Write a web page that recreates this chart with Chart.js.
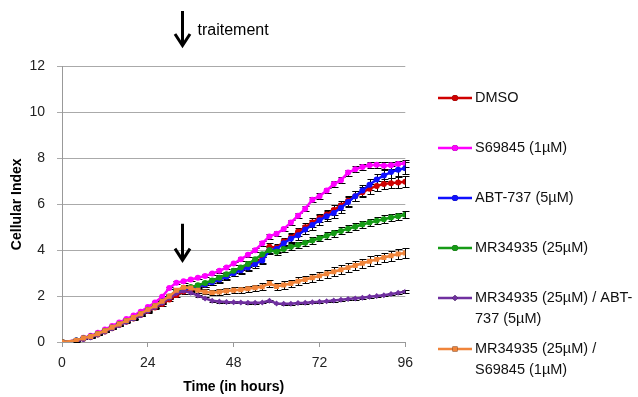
<!DOCTYPE html>
<html><head><meta charset="utf-8">
<script src="https://cdn.jsdelivr.net/npm/chart.js@4/dist/chart.umd.min.js"></script>
<style>html,body{margin:0;padding:0;background:#fff;}#wrap{width:638px;height:397px;position:relative;}</style>
</head><body><div id="wrap"><canvas id="c" width="638" height="397"></canvas></div>
<script>
// ---- data ----
const times = [0,4,6,8,10,12,14,16,18,20,22,24,26,28,30,32,34,36,38,40,42,44,46,48,50,52,54,56,58,60,62,64,66,68,70,72,74,76,78,80,82,84,86,88,90,92,94,96];
const dmso   = [0,0.05,0.14,0.22,0.33,0.46,0.6,0.74,0.88,1.02,1.18,1.35,1.5,1.66,1.85,2.05,2.2,2.3,2.4,2.5,2.62,2.75,2.88,3.02,3.15,3.3,3.45,3.62,4.15,4.1,4.38,4.55,4.8,5.0,5.2,5.4,5.55,5.75,5.95,6.15,6.35,6.52,6.68,6.8,6.88,6.92,6.95,6.98];
const s69845 = [0,0.07,0.18,0.27,0.4,0.54,0.7,0.85,1.0,1.15,1.32,1.52,1.72,1.97,2.35,2.58,2.65,2.72,2.8,2.88,2.98,3.1,3.24,3.42,3.6,3.8,4.0,4.3,4.6,4.72,4.92,5.2,5.5,5.8,6.2,6.35,6.6,6.88,7.05,7.38,7.52,7.62,7.7,7.72,7.68,7.7,7.75,7.78];
const abt737 = [0,0.06,0.15,0.23,0.35,0.48,0.62,0.76,0.9,1.05,1.2,1.38,1.55,1.73,1.95,2.18,2.3,2.36,2.42,2.5,2.6,2.72,2.85,3.0,3.12,3.25,3.4,3.55,4.0,4.05,4.3,4.5,4.65,4.9,5.1,5.3,5.48,5.62,5.85,6.1,6.35,6.6,6.85,7.08,7.25,7.4,7.5,7.57];
const mr34935 = [0,0.06,0.16,0.24,0.36,0.49,0.63,0.77,0.92,1.06,1.22,1.4,1.57,1.76,1.98,2.22,2.36,2.4,2.47,2.57,2.68,2.8,2.95,3.1,3.25,3.4,3.6,3.82,4.0,3.93,4.05,4.15,4.22,4.32,4.42,4.52,4.63,4.74,4.84,4.93,5.02,5.12,5.2,5.28,5.35,5.42,5.48,5.54];
const mrAbt  = [0,0.03,0.12,0.2,0.32,0.45,0.6,0.73,0.88,1.02,1.17,1.35,1.52,1.7,1.92,2.12,2.22,2.15,2.02,1.9,1.8,1.76,1.74,1.73,1.72,1.71,1.71,1.72,1.8,1.68,1.67,1.67,1.7,1.71,1.73,1.75,1.78,1.81,1.84,1.87,1.9,1.93,1.97,2.0,2.04,2.09,2.14,2.2];
const mrS    = [0,0.07,0.17,0.24,0.36,0.49,0.64,0.78,0.93,1.07,1.23,1.41,1.58,1.77,1.99,2.25,2.38,2.35,2.25,2.18,2.15,2.18,2.22,2.25,2.28,2.32,2.36,2.4,2.55,2.42,2.48,2.55,2.65,2.72,2.8,2.88,2.97,3.06,3.15,3.24,3.33,3.43,3.52,3.6,3.68,3.76,3.83,3.88];

const dmsoErr   = [0,0.02,0.02,0.03,0.03,0.04,0.04,0.05,0.05,0.06,0.06,0.07,0.07,0.08,0.08,0.09,0.1,0.1,0.11,0.12,0.12,0.13,0.13,0.14,0.14,0.15,0.15,0.16,0.16,0.17,0.17,0.18,0.18,0.18,0.19,0.19,0.2,0.2,0.2,0.21,0.21,0.21,0.22,0.22,0.22,0.23,0.23,0.23];
const s69845Err = [0,0.01,0.01,0.02,0.02,0.02,0.03,0.03,0.03,0.04,0.04,0.04,0.05,0.05,0.05,0.06,0.06,0.06,0.07,0.07,0.07,0.08,0.08,0.08,0.09,0.09,0.09,0.1,0.1,0.1,0.1,0.11,0.11,0.11,0.12,0.12,0.12,0.12,0.13,0.13,0.13,0.13,0.14,0.14,0.14,0.15,0.15,0.15];
const abt737Err = [0,0.02,0.02,0.03,0.03,0.04,0.04,0.05,0.05,0.06,0.06,0.07,0.07,0.08,0.09,0.09,0.1,0.1,0.11,0.11,0.12,0.13,0.13,0.14,0.14,0.15,0.16,0.16,0.17,0.17,0.18,0.19,0.19,0.2,0.2,0.21,0.21,0.22,0.22,0.23,0.23,0.24,0.24,0.25,0.25,0.26,0.26,0.27];
const mr34935Err = [0,0.01,0.02,0.02,0.03,0.03,0.04,0.04,0.05,0.05,0.06,0.06,0.07,0.07,0.08,0.08,0.08,0.09,0.09,0.1,0.1,0.1,0.11,0.11,0.11,0.12,0.12,0.12,0.13,0.13,0.13,0.13,0.14,0.14,0.14,0.14,0.14,0.15,0.15,0.15,0.15,0.15,0.15,0.16,0.16,0.16,0.16,0.16];
const mrAbtErr  = [0,0.01,0.01,0.01,0.01,0.02,0.02,0.02,0.02,0.02,0.03,0.03,0.03,0.03,0.03,0.03,0.04,0.04,0.04,0.04,0.04,0.04,0.04,0.04,0.04,0.04,0.04,0.04,0.04,0.04,0.04,0.04,0.04,0.04,0.04,0.05,0.05,0.05,0.05,0.05,0.05,0.05,0.05,0.05,0.05,0.05,0.05,0.05];
const mrSErr    = [0,0.02,0.02,0.03,0.03,0.04,0.04,0.05,0.05,0.06,0.06,0.07,0.07,0.08,0.08,0.09,0.09,0.1,0.1,0.11,0.11,0.12,0.12,0.13,0.13,0.14,0.14,0.15,0.15,0.15,0.16,0.16,0.17,0.17,0.17,0.18,0.18,0.19,0.19,0.19,0.2,0.2,0.21,0.21,0.21,0.22,0.22,0.23];

const seriesNames = ["DMSO", "S69845 (1µM)", "ABT-737 (5µM)", "MR34935 (25µM)", "MR34935 (25µM) / ABT-737 (5µM)", "MR34935 (25µM) / S69845 (1µM)"];
const legendLines = [["DMSO"], ["S69845 (1µM)"], ["ABT-737 (5µM)"], ["MR34935 (25µM)"], ["MR34935 (25µM) / ABT-", "737 (5µM)"], ["MR34935 (25µM) /", "S69845 (1µM)"]];
const yTicks = [0,2,4,6,8,10,12];
const xTicks = [0,24,48,72,96];
const xTitle = "Time (in hours)";
const yTitle = "Cellular Index";
const treatmentLabel = "traitement";
const treatmentTime = 33.5;

// ---- build ----
const FONT = '"Liberation Sans", Arial, sans-serif';
const colors = ['#d00000', '#ff00ff', '#1010ff', '#169b16', '#7030a0', '#f0843a'];
const styles = ['circle', 'circle', 'circle', 'circle', 'rectRot', 'rect'];
const radii = [3, 3, 3, 3, 3, 3.5];
const valueSets = [dmso, s69845, abt737, mr34935, mrAbt, mrS];
const errSets = [dmsoErr, s69845Err, abt737Err, mr34935Err, mrAbtErr, mrSErr];

const datasets = valueSets.map((vals, i) => ({
  label: seriesNames[i],
  data: times.map((t, j) => ({x: t, y: vals[j]})),
  errors: errSets[i],
  borderColor: colors[i],
  backgroundColor: colors[i],
  borderWidth: 2.5,
  pointStyle: styles[i],
  pointRadius: radii[i],
  pointBorderWidth: 0,
  tension: 0,
  order: 6 - i
}));

const errorBarPlugin = {
  id: 'errbars',
  beforeDatasetsDraw(chart) {
    const {ctx, scales: {x, y}} = chart;
    ctx.save();
    ctx.strokeStyle = '#000';
    ctx.lineWidth = 1;
    chart.data.datasets.forEach(ds => {
      ds.data.forEach((p, j) => {
        const e = ds.errors[j];
        if (!e) return;
        const px = Math.round(x.getPixelForValue(p.x)) + 0.5;
        const y1 = Math.round(y.getPixelForValue(p.y + e)) + 0.5;
        const y2 = Math.round(y.getPixelForValue(p.y - e)) + 0.5;
        ctx.beginPath();
        ctx.moveTo(px, y1); ctx.lineTo(px, y2);
        ctx.moveTo(px - 3, y1); ctx.lineTo(px + 4, y1);
        ctx.moveTo(px - 3, y2); ctx.lineTo(px + 4, y2);
        ctx.stroke();
      });
    });
    ctx.restore();
  }
};

function drawArrow(ctx, x, top, tip) {
  ctx.save();
  ctx.strokeStyle = '#000';
  ctx.lineWidth = 3;
  ctx.lineCap = 'butt';
  ctx.lineJoin = 'miter';
  ctx.beginPath();
  ctx.moveTo(x, top); ctx.lineTo(x, tip - 2);
  ctx.stroke();
  ctx.beginPath();
  ctx.moveTo(x - 7.5, tip - 13); ctx.lineTo(x, tip - 1.5); ctx.lineTo(x + 7.5, tip - 13);
  ctx.stroke();
  ctx.restore();
}

const decorPlugin = {
  id: 'decor',
  afterDraw(chart) {
    const {ctx, scales: {x, y}} = chart;
    const ax = Math.round(x.getPixelForValue(treatmentTime)) + 0.5;
    drawArrow(ctx, ax, 11, 47);
    ctx.save();
    ctx.font = '16px ' + FONT;
    ctx.fillStyle = '#000';
    ctx.textBaseline = 'middle';
    ctx.fillText(treatmentLabel, ax + 15, 31);
    ctx.restore();
    drawArrow(ctx, ax, y.getPixelForValue(5.15), y.getPixelForValue(3.5));

    // legend
    ctx.save();
    ctx.font = '14.5px ' + FONT;
    ctx.fillStyle = '#111';
    ctx.textBaseline = 'middle';
    const rowY = [98, 148, 198, 248, 298, 349];
    chart.data.datasets.forEach((ds, i) => {
      const yy = rowY[i];
      ctx.strokeStyle = ds.borderColor;
      ctx.lineWidth = 2.5;
      ctx.beginPath(); ctx.moveTo(438, yy); ctx.lineTo(472, yy); ctx.stroke();
      Chart.helpers.drawPoint(ctx, {pointStyle: ds.pointStyle, radius: ds.pointRadius, borderWidth: 0, rotation: 0}, 455, yy);
      ctx.fillStyle = ds.borderColor;
      ctx.beginPath();
      ctx.fillStyle = '#111';
      legendLines[i].forEach((ln, k) => ctx.fillText(ln, 475, yy + k * 20.5));
    });
    ctx.restore();
  }
};

// fill legend markers properly
const markerPlugin = {
  id: 'legendMarkers',
  afterDraw(chart) {
    const ctx = chart.ctx;
    const rowY = [98, 148, 198, 248, 298, 349];
    chart.data.datasets.forEach((ds, i) => {
      ctx.save();
      ctx.fillStyle = ds.backgroundColor;
      ctx.strokeStyle = ds.borderColor;
      Chart.helpers.drawPoint(ctx, {pointStyle: ds.pointStyle, radius: ds.pointRadius, borderWidth: 0, rotation: 0}, 455, rowY[i]);
      ctx.restore();
    });
  }
};

new Chart(document.getElementById('c').getContext('2d'), {
  type: 'line',
  data: {datasets},
  options: {
    responsive: false,
    animation: false,
    layout: {padding: {left: 5, top: 66.5, right: 232.7, bottom: 0}},
    plugins: {legend: {display: false}, tooltip: {enabled: false}},
    scales: {
      x: {
        type: 'linear', min: 0, max: 96,
        afterFit(s) { s.height = 55; },
        afterBuildTicks(s) { s.ticks = xTicks.map(v => ({value: v})); },
        ticks: {font: {size: 14, family: FONT}, color: '#222', padding: 8, maxRotation: 0},
        grid: {drawOnChartArea: false, drawTicks: true, tickLength: 5, color: '#999'},
        border: {color: '#999'},
        title: {display: true, text: xTitle, color: '#000', font: {size: 14, weight: 'bold', family: FONT}, padding: {top: 0, bottom: 1}}
      },
      y: {
        min: 0, max: 12,
        afterFit(s) { s.width = 57; },
        afterBuildTicks(s) { s.ticks = yTicks.map(v => ({value: v})); },
        ticks: {font: {size: 14, family: FONT}, color: '#222', padding: 12},
        grid: {color: '#aaa', tickLength: 5},
        border: {color: '#999'},
        title: {display: true, text: yTitle, color: '#000', font: {size: 14, weight: 'bold', family: FONT}, padding: {top: 4, bottom: 4}}
      }
    }
  },
  plugins: [errorBarPlugin, decorPlugin, markerPlugin]
});
</script>
</body></html>
